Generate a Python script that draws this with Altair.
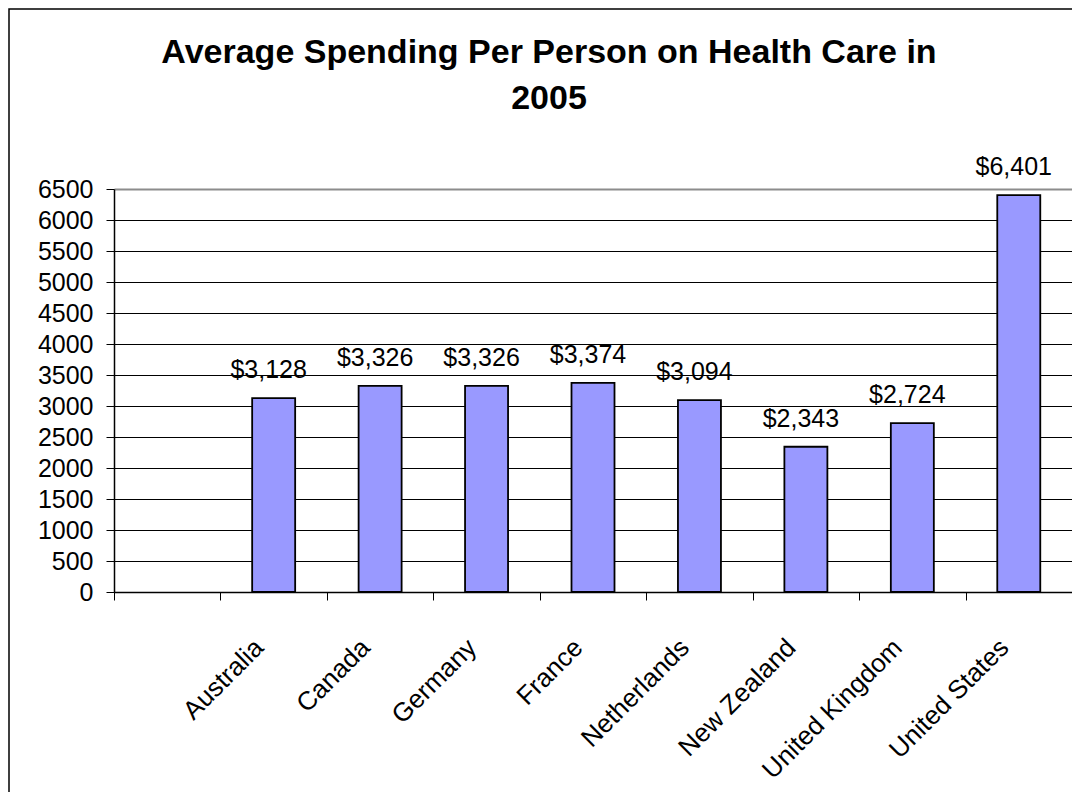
import altair as alt
import pandas as pd

# ---- data ----
slots = ["", "Australia", "Canada", "Germany", "France", "Netherlands",
         "New Zealand", "United Kingdom", "United States"]
countries = ["Australia", "Canada", "Germany", "France", "Netherlands",
             "New Zealand", "United Kingdom", "United States"]
spending = [3128, 3326, 3326, 3374, 3094, 2343, 2724, 6401]
y_ticks = [0, 500, 1000, 1500, 2000, 2500, 3000, 3500, 4000, 4500,
           5000, 5500, 6000, 6500]
title_lines = ["Average Spending Per Person on Health Care in", "2005"]

df = pd.DataFrame({"country": countries, "spending": spending})

FONT = "Liberation Sans"

x_enc = alt.X(
    "country:N",
    scale=alt.Scale(domain=slots, paddingInner=0, paddingOuter=0),
    axis=alt.Axis(
        title=None,
        labelAngle=-45,
        labelFont=FONT,
        labelFontSize=26,
        labelColor="black",
        labelPadding=34,
        labelOffset=-24,
        labelLimit=400,
        tickBand="extent",
        tickSize=8,
        tickColor="black",
        tickWidth=1,
        domainColor="black",
        domainWidth=1.5,
        labelOverlap=False,
    ),
)

y_enc = alt.Y(
    "spending:Q",
    scale=alt.Scale(domain=[0, 6500], nice=False, zero=True),
    axis=alt.Axis(
        title=None,
        values=y_ticks,
        format="d",
        labelFont=FONT,
        labelFontSize=25,
        labelColor="black",
        labelPadding=13,
        tickSize=8,
        tickColor="black",
        tickWidth=1,
        domainColor="black",
        domainWidth=1.5,
        grid=True,
        gridColor=alt.condition("datum.value === 6500", alt.value("#8c8c8c"), alt.value("black")),
        gridWidth=alt.condition("datum.value === 6500", alt.value(2), alt.value(1)),
        labelOverlap=False,
        labelFlush=False,
    ),
)

base = alt.Chart(df).encode(x=x_enc, y=y_enc)

bars = base.mark_bar(
    width=alt.RelativeBandSize(0.404),
    color="#9999FF",
    stroke="black",
    strokeWidth=1.8,
)

texts = base.mark_text(
    font=FONT,
    fontSize=25,
    color="black",
    baseline="alphabetic",
    dy=-20,
    dx=-5,
).encode(text=alt.Text("spending:Q", format="$,.0f"))

frame = alt.Chart(alt.Data(values=[{}])).mark_rect(
    filled=False, stroke="black", strokeWidth=1.5
).encode(
    x=alt.value(-105), x2=alt.value(2000),
    y=alt.value(-180), y2=alt.value(2000),
)

chart = alt.layer(bars, texts, frame).properties(
    width=958,
    height=403,
    autosize=alt.AutoSizeParams(type="none"),
    padding={"left": 106, "top": 181, "right": 0, "bottom": 200},
    title=alt.TitleParams(
        text=title_lines,
        font=FONT,
        fontSize=34,
        fontWeight="bold",
        color="black",
        anchor="middle",
        dx=-44,
        dy=108,
        offset=0,
        lineHeight=46,
    ),
).configure_view(
    fill="#C0C0C0",
    stroke="#8c8c8c",
    strokeWidth=1.5,
).configure(background="white")

chart.save("out.html", embed_options={"renderer": "svg", "actions": False})
